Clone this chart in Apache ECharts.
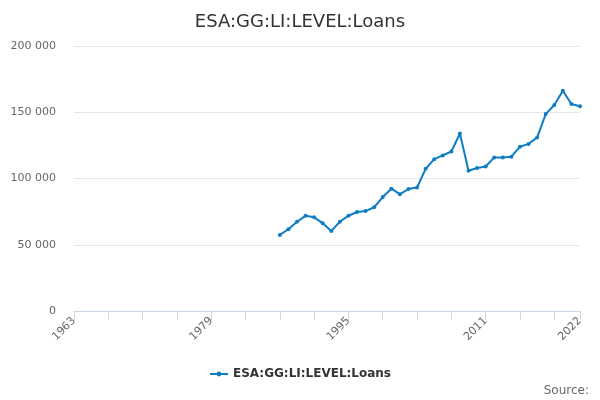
<!DOCTYPE html>
<html>
<head>
<meta charset="utf-8">
<script src="https://cdn.jsdelivr.net/npm/echarts@6/dist/echarts.min.js"></script>
<style>
  html, body { margin: 0; padding: 0; background: #fff; }
  #chart { width: 600px; height: 400px; }
</style>
</head>
<body>
<div id="chart"></div>
<script>
  // years 1963..2022, series starts in 1987
  var years = [];
  for (var y = 1963; y <= 2022; y++) years.push(String(y));

  var loanYears = ['1987', '1988', '1989', '1990', '1991', '1992', '1993', '1994', '1995', '1996',
    '1997', '1998', '1999', '2000', '2001', '2002', '2003', '2004', '2005', '2006',
    '2007', '2008', '2009', '2010', '2011', '2012', '2013', '2014', '2015', '2016',
    '2017', '2018', '2019', '2020', '2021', '2022'];
  var loanValues = [57400, 61700, 67300, 71900, 70700, 66300, 60400, 67400, 71900, 74700,
    75400, 78300, 86000, 92300, 88200, 92000, 93200, 107300, 114600, 117400,
    120400, 134000, 105800, 107900, 109100, 115900, 115800, 116500, 124000, 126100,
    130900, 148600, 155500, 166200, 156200, 154600];

  var yTicks = [0, 50000, 100000, 150000, 200000];

  // put values on the full year axis, empty before the series starts
  var seriesData = years.map(function (yr) {
    var i = loanYears.indexOf(yr);
    return i < 0 ? null : loanValues[i];
  });

  var chart = echarts.init(document.getElementById('chart'));
  chart.setOption({
    animation: false,
    textStyle: { fontFamily: 'DejaVu Sans' },
    title: {
      text: 'ESA:GG:LI:LEVEL:Loans',
      left: 'center',
      top: 8,
      textStyle: { fontSize: 18, fontWeight: 'normal', color: '#333' }
    },
    legend: {
      bottom: 15,
      left: 'center',
      itemWidth: 18,
      itemHeight: 6,
      textStyle: { fontSize: 12, fontWeight: 'bold', color: '#333' }
    },
    graphic: [{
      type: 'text',
      right: 11,
      bottom: 3,
      style: { text: 'Source:', fontSize: 12, fill: '#666', fontFamily: 'DejaVu Sans' }
    }],
    grid: { left: 74, right: 20, top: 46, bottom: 89 },
    xAxis: {
      type: 'category',
      data: years,
      boundaryGap: false,
      axisLine: { lineStyle: { color: '#ccd6eb' } },
      axisTick: {
        length: 9,
        lineStyle: { color: '#ccd6eb' },
        interval: function (i) { return i % 4 === 0 || i === years.length - 1; }
      },
      axisLabel: {
        rotate: 45,
        color: '#666',
        fontSize: 11,
        interval: function (i) { return i % 16 === 0 || i === years.length - 1; }
      }
    },
    yAxis: {
      type: 'value',
      min: yTicks[0],
      max: yTicks[yTicks.length - 1],
      interval: 50000,
      axisLabel: {
        color: '#666',
        fontSize: 11,
        margin: 18,
        formatter: function (v) {
          return String(v).replace(/\B(?=(\d{3})+(?!\d))/g, ' ');
        }
      },
      splitLine: { lineStyle: { color: '#e6e6e6' } }
    },
    series: [{
      name: 'ESA:GG:LI:LEVEL:Loans',
      type: 'line',
      data: seriesData,
      symbol: 'circle',
      symbolSize: 4,
      lineStyle: { width: 2, color: '#0f7dc2' },
      itemStyle: { color: '#0f7dc2' }
    }]
  });
</script>
</body>
</html>
